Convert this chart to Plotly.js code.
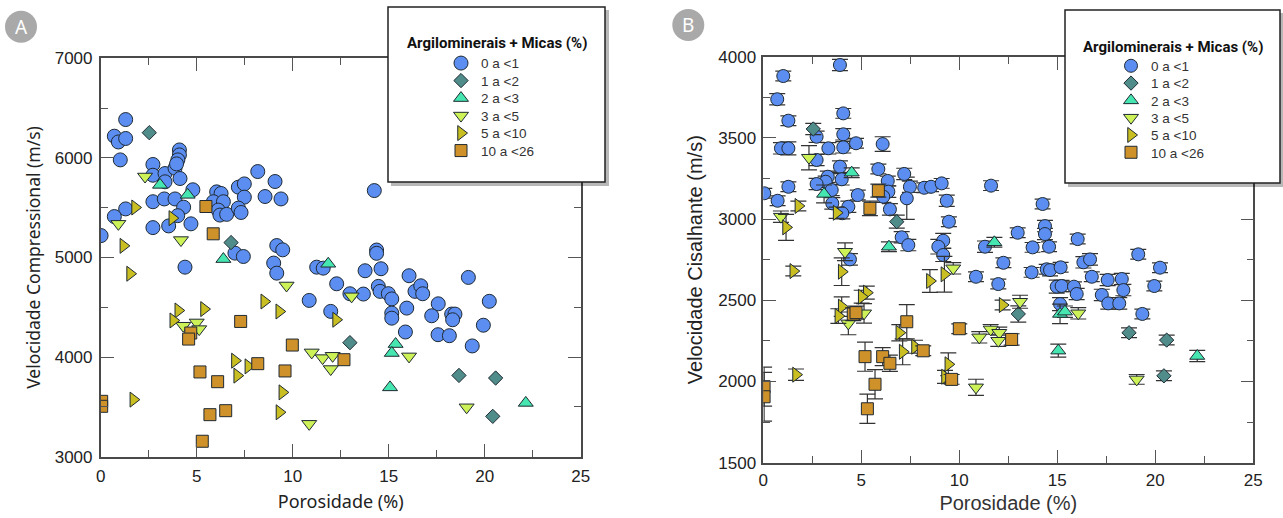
<!DOCTYPE html>
<html><head><meta charset="utf-8">
<script src="https://cdn.plot.ly/plotly-3.0.1.min.js"></script>
<style>html,body{margin:0;padding:0;background:#fff}#chart{width:1283px;height:518px}</style>
</head><body><div id="chart"></div>
<script>
// ---------- DATA ----------
const categories = ['0 a <1', '1 a <2', '2 a <3', '3 a <5', '5 a <10', '10 a <26'];
const legendTitle = 'Argilominerais + Micas (%)';
const xTitle = 'Porosidade (%)';
const yTitleA = 'Velocidade Compressional (m/s)';
const yTitleB = 'Velocidade Cisalhante (m/s)';
const panelLabels = ['A', 'B'];

// Panel A: porosity (%) vs compressional velocity (m/s)
const A_x0 = [1.30,0.71,0.92,1.30,1.02,2.72,2.72,3.35,3.35,3.87,4.10,4.10,4.02,3.95,4.13,4.80,2.72,3.31,3.87,4.32,4.01,4.70,2.72,3.54,1.30,0.71,0.02,4.39,6.04,6.27,5.87,6.39,6.12,6.21,6.56,7.17,7.48,7.48,7.17,7.31,8.18,9.08,8.56,9.39,9.17,9.48,9.01,9.17,6.99,7.43,11.25,11.59,14.25,14.37,14.37,13.77,14.60,12.29,12.98,13.68,10.86,11.98,14.46,14.55,14.98,15.16,16.06,16.37,16.67,16.77,15.94,15.16,15.16,15.87,17.58,17.24,18.28,18.45,18.33,17.57,18.16,19.15,20.24,19.93,19.35];
const A_y0 = [6385,6218,6160,6195,5980,5934,5826,5843,5760,5897,6080,6030,5980,5940,5793,5680,5560,5588,5588,5505,5420,5338,5300,5317,5488,5411,5220,4903,5659,5643,5560,5560,5476,5426,5433,5706,5739,5606,5496,5452,5863,5763,5612,5588,5120,5077,4944,4843,5044,5010,4903,4893,5672,5075,5042,4867,4887,4736,4636,4633,4569,4459,4710,4660,4637,4584,4817,4660,4716,4636,4492,4442,4391,4252,4535,4415,4432,4432,4375,4225,4215,4800,4560,4320,4112];
const A_x1 = [2.53,6.79,12.98,18.66,20.57,20.42];
const A_y1 = [6253,5150,4145,3816,3790,3405];
const A_x2 = [3.09,4.53,6.39,11.85,15.36,15.16,15.07,22.14];
const A_y2 = [5729,5629,4984,4937,4131,4041,3696,3540];
const A_x3 = [2.31,0.92,4.18,9.68,13.07,4.30,5.00,5.13,10.99,11.56,12.08,11.98,16.06,19.06,10.86];
const A_y3 = [5813,5338,5175,4719,4610,4315,4348,4281,4047,3990,4013,3880,4007,3496,3330];
const A_x4 = [1.79,3.73,1.18,1.53,12.26,8.52,9.30,4.04,3.78,5.38,6.99,7.11,7.69,9.46,9.31,1.70];
const A_y4 = [5502,5395,5117,4837,4375,4558,4458,4468,4368,4482,3964,3814,3907,3646,3446,3573];
const A_x5 = [5.48,5.86,9.98,12.67,9.60,4.69,4.58,7.29,8.18,5.17,6.09,5.69,6.51,5.29,0.05,0.05];
const A_y5 = [5512,5238,4121,3974,3861,4242,4181,4358,3934,3851,3753,3422,3462,3155,3556,3506];

// Panel B: porosity (%) vs shear velocity (m/s), with error values (m/s)
const B_x0 = [3.91,1.02,0.71,1.28,4.08,4.08,2.72,0.90,1.28,3.32,4.08,4.73,6.09,2.72,3.91,5.87,7.19,3.29,3.18,4.00,2.72,1.28,0.05,0.73,3.49,3.52,4.34,4.03,4.82,6.35,6.38,6.12,7.48,7.32,6.46,8.21,8.56,9.10,9.36,9.47,11.62,7.06,7.40,9.18,8.93,9.18,4.42,11.31,12.25,10.85,11.99,14.25,14.37,14.37,12.98,13.74,14.58,16.04,13.69,14.46,14.63,15.17,14.97,15.22,15.14,16.33,16.67,15.85,15.99,16.76,17.27,17.57,18.29,18.37,17.60,18.16,19.13,20.24,19.95,19.34];
const B_y0 = [3949,3881,3738,3606,3651,3522,3507,3436,3436,3436,3442,3467,3462,3364,3323,3308,3278,3261,3230,3245,3216,3199,3159,3113,3179,3097,3076,3036,3148,3235,3169,3138,3199,3128,3060,3193,3199,3220,3113,2984,3206,2888,2840,2867,2830,2779,2752,2830,2731,2645,2600,3093,2957,2908,2916,2826,2830,2877,2672,2691,2686,2703,2584,2588,2477,2734,2752,2584,2539,2645,2533,2625,2631,2563,2481,2481,2783,2701,2588,2416];
const B_e0 = [35,30,35,30,30,35,35,35,40,35,35,30,45,35,35,30,35,35,35,35,35,30,30,30,35,35,35,35,30,30,35,35,35,130,35,30,30,30,35,30,30,35,35,45,45,40,35,35,30,30,30,30,35,35,30,30,30,30,30,30,35,30,40,35,40,35,35,30,35,30,35,35,35,35,35,35,30,30,30,30];
const B_x1 = [2.55,6.81,13.01,18.66,20.58,20.44];
const B_y1 = [3555,2984,2416,2300,2255,2035];
const B_e1 = [35,40,50,30,30,30];
const B_x2 = [4.51,3.10,6.41,11.79,15.14,15.39,15.05,22.14];
const B_y2 = [3286,3155,2830,2857,2416,2430,2190,2157];
const B_e2 = [30,55,30,30,60,35,40,35];
const B_x3 = [2.33,0.90,4.17,9.69,4.34,5.14,13.10,16.07,11.02,11.60,12.04,11.99,19.05,10.85];
const B_y3 = [3378,3015,2799,2697,2358,2420,2491,2420,2272,2321,2300,2251,2013,1964];
const B_e3 = [75,35,55,35,70,60,40,35,35,30,35,35,30,50];
const B_x4 = [1.79,1.16,3.74,4.00,1.53,8.50,9.24,5.28,5.02,4.00,3.83,6.94,7.11,7.74,9.44,9.27,1.67,12.21];
const B_y4 = [3081,2949,3039,2676,2680,2619,2660,2547,2522,2461,2403,2300,2183,2214,2106,2029,2042,2471];
const B_e4 = [30,80,35,85,30,70,110,40,40,60,45,50,80,40,70,40,35,30];
const B_x5 = [5.44,5.87,4.59,4.73,7.32,8.16,5.19,6.09,6.46,9.61,5.70,5.31,0.04,0.04,10.00,12.67];
const B_y5 = [3066,3175,2415,2424,2368,2189,2153,2153,2112,2013,1983,1832,1968,1906,2325,2259];
const B_e5 = [45,40,40,40,105,30,90,55,50,30,90,90,120,150,30,35];

// ---------- STYLE ----------
const W = 1283, H = 518;
const px = v => v / W;
const py = v => 1 - v / H;
const symbolList = ['circle','diamond','triangle-up','triangle-down','triangle-right','square'];
const fillList = ['#5b8ef0','#4f8c8a','#45e6b0','#cdf257','#c9bf22','#cf9129'];
const sizeA = [14,11,13,13,13,12];
const sizeB = [13,11,13,13,13,12];

const AX = [A_x0,A_x1,A_x2,A_x3,A_x4,A_x5];
const AY = [A_y0,A_y1,A_y2,A_y3,A_y4,A_y5];
const BX = [B_x0,B_x1,B_x2,B_x3,B_x4,B_x5];
const BY = [B_y0,B_y1,B_y2,B_y3,B_y4,B_y5];
const BE = [B_e0,B_e1,B_e2,B_e3,B_e4,B_e5];

const legName = k => (k === 0 ? 'legend' : 'legend' + (k + 1));
const traces = [];
categories.forEach((c, i) => {
  traces.push({
    type: 'scatter', mode: 'markers', x: AX[i], y: AY[i], name: c,
    xaxis: 'x', yaxis: 'y', legend: legName(i),
    marker: {symbol: symbolList[i], size: sizeA[i], color: fillList[i], line: {color: '#1f2a33', width: 1}},
    hoverinfo: 'x+y+name'
  });
});
categories.forEach((c, i) => {
  traces.push({
    type: 'scatter', mode: 'markers', x: BX[i], y: BY[i], name: c,
    xaxis: 'x2', yaxis: 'y2', legend: legName(i + 6),
    error_y: {type: 'data', array: BE[i], visible: true, color: '#333', thickness: 1.2, width: 8},
    marker: {symbol: symbolList[i], size: sizeB[i], color: fillList[i], line: {color: '#1f2a33', width: 1}},
    hoverinfo: 'x+y+name'
  });
});

function axis(extra) {
  return Object.assign({
    showline: true, linecolor: '#4a4a4a', linewidth: 1.6, mirror: 'ticks',
    ticks: 'inside', ticklen: 13, tickwidth: 1.4, tickcolor: '#555',
    showgrid: false, zeroline: false, fixedrange: true,
    tickfont: {family: 'Liberation Sans, Arial, sans-serif', size: 17, color: '#222'}
  }, extra);
}

const layout = {
  width: W, height: H,
  margin: {l: 0, r: 0, t: 0, b: 0},
  paper_bgcolor: '#fff', plot_bgcolor: '#fff',
  showlegend: true,
  xaxis: axis({domain: [px(100.7), px(580.7)], range: [0, 25], dtick: 5, anchor: 'y', ticklabelstandoff: 3,
    minor: {dtick: 2.5, ticks: 'inside', ticklen: 7, tickwidth: 1.2, tickcolor: '#555'},
    title: {text: xTitle, standoff: 10, font: {family: 'Noto Sans, sans-serif', size: 18, color: '#222'}}}),
  yaxis: axis({domain: [py(456.7), py(58.3)], range: [3000, 7000], dtick: 1000, anchor: 'x', ticklabelstandoff: 3,
    minor: {dtick: 500, ticks: 'inside', ticklen: 7, tickwidth: 1.2, tickcolor: '#555'},
    title: {text: yTitleA, standoff: 10, font: {family: 'Noto Sans, sans-serif', size: 17.5, color: '#222'}}}),
  xaxis2: axis({domain: [px(763.3), px(1253.3)], range: [0, 25], dtick: 5, anchor: 'y2', ticklabelstandoff: 1,
    minor: {dtick: 2.5, ticks: 'inside', ticklen: 7, tickwidth: 1.2, tickcolor: '#555'},
    title: {text: xTitle, standoff: 7, font: {family: 'Liberation Sans, Arial, sans-serif', size: 20, color: '#333'}}}),
  yaxis2: axis({domain: [py(462.7), py(56.7)], range: [1500, 4000], dtick: 500, anchor: 'x2', ticklabelstandoff: 2,
    minor: {dtick: 250, ticks: 'inside', ticklen: 7, tickwidth: 1.2, tickcolor: '#555'},
    title: {text: yTitleB, standoff: 10, font: {family: 'Liberation Sans, Arial, sans-serif', size: 20, color: '#222'}}}),
  shapes: [
    {type: 'rect', xref: 'paper', yref: 'paper', layer: 'above', x0: px(391), x1: px(609), y0: py(186), y1: py(10), fillcolor: 'rgba(0,0,0,0.28)', line: {width: 0}},
    {type: 'rect', xref: 'paper', yref: 'paper', layer: 'above', x0: px(388), x1: px(605), y0: py(182), y1: py(7), fillcolor: '#fff', line: {color: '#222', width: 1.5}},
    {type: 'rect', xref: 'paper', yref: 'paper', layer: 'above', x0: px(1068), x1: px(1283), y0: py(187), y1: py(13), fillcolor: 'rgba(0,0,0,0.28)', line: {width: 0}},
    {type: 'rect', xref: 'paper', yref: 'paper', layer: 'above', x0: px(1065), x1: px(1280), y0: py(183), y1: py(10), fillcolor: '#fff', line: {color: '#222', width: 1.5}},
    {type: 'circle', xref: 'paper', yref: 'paper', layer: 'above', x0: px(5), x1: px(37), y0: py(42.7), y1: py(10.7), fillcolor: '#a9a9a9', line: {width: 0}},
    {type: 'circle', xref: 'paper', yref: 'paper', layer: 'above', x0: px(672.3), x1: px(704.3), y0: py(41), y1: py(9), fillcolor: '#a9a9a9', line: {width: 0}}
  ],
  annotations: [
    {xref: 'paper', yref: 'paper', x: px(496.5), y: py(43.3), text: '<b>' + legendTitle + '</b>', showarrow: false,
      font: {family: 'Roboto, sans-serif', size: 15, color: '#111'}, xanchor: 'center', yanchor: 'middle'},
    {xref: 'paper', yref: 'paper', x: px(1173), y: py(46.7), text: '<b>' + legendTitle + '</b>', showarrow: false,
      font: {family: 'Roboto, sans-serif', size: 15, color: '#111'}, xanchor: 'center', yanchor: 'middle'},
    {xref: 'paper', yref: 'paper', x: px(21), y: py(26.7), text: panelLabels[0], showarrow: false,
      font: {family: 'Noto Sans, sans-serif', size: 19, color: '#fff'}, xanchor: 'center', yanchor: 'middle'},
    {xref: 'paper', yref: 'paper', x: px(688.3), y: py(25), text: panelLabels[1], showarrow: false,
      font: {family: 'Noto Sans, sans-serif', size: 19, color: '#fff'}, xanchor: 'center', yanchor: 'middle'}
  ]
};

// one single-entry legend per category, so entries sit on the reference's tight spacing
const legFont = {family: 'Liberation Sans, Arial, sans-serif', size: 13.5, color: '#333'};
for (let k = 0; k < 12; k++) {
  const isA = k < 6, j = k % 6;
  layout[legName(k)] = {
    x: px(isA ? 441 : 1111), y: py(isA ? 63.3 + j * 17.5 : 66 + j * 17.3),
    xanchor: 'left', yanchor: 'middle', bgcolor: 'rgba(0,0,0,0)', borderwidth: 0,
    font: legFont, itemclick: false, itemdoubleclick: false
  };
}

Plotly.newPlot('chart', traces, layout, {displayModeBar: false});
</script>
</body></html>
